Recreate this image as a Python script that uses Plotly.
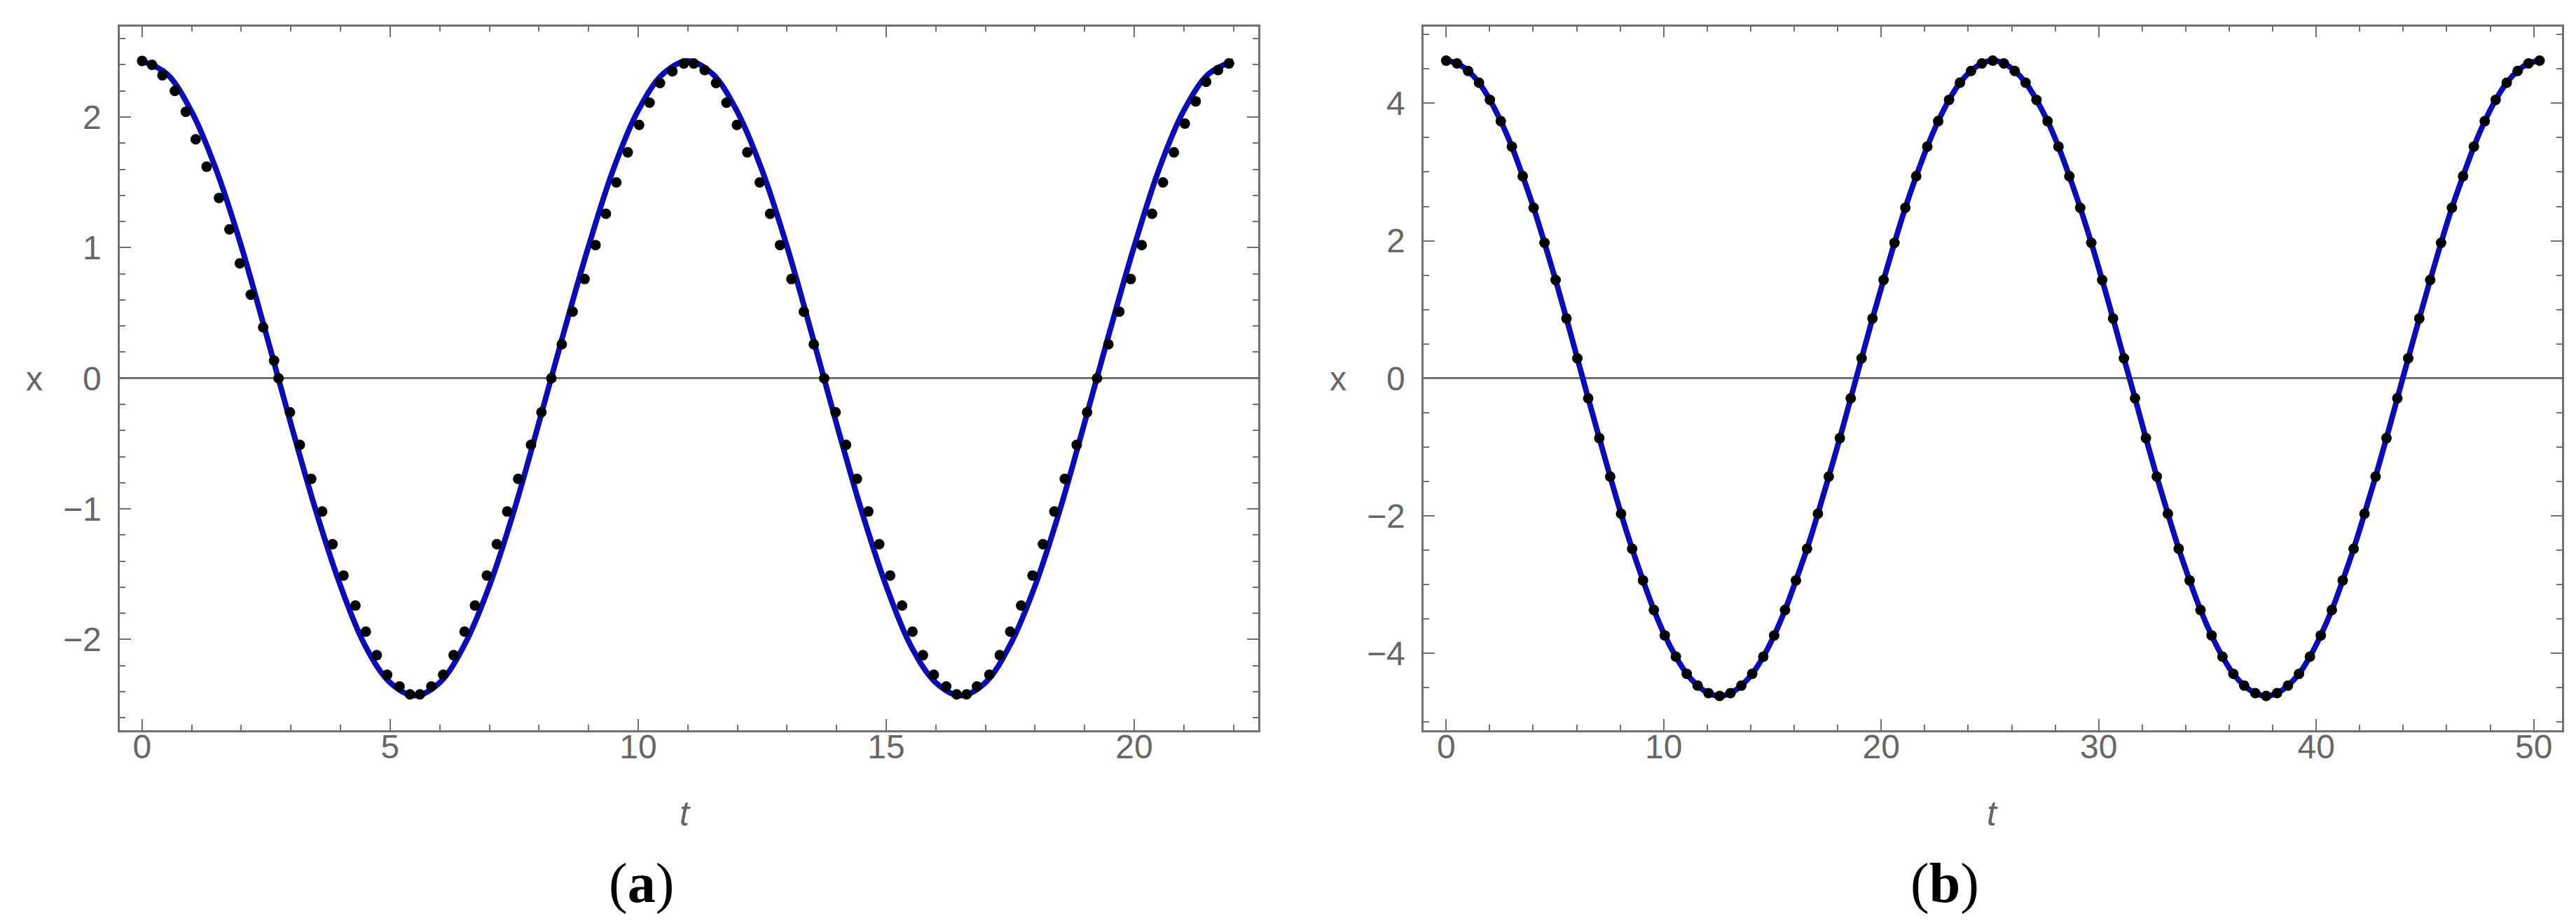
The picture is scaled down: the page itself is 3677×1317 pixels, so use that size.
import plotly.graph_objects as go

W, H = 3677, 1317

# ---- panel (a): analytic curve (blue) and numerical points (black) ----
line_a_t = [0, 0.5, 1.0, 1.5, 2.0, 2.5, 3.0, 3.5, 4.0, 4.5, 5.0, 5.5, 6.0, 6.5, 7.0, 7.5,
            8.0, 8.5, 9.0, 9.5, 10.0, 10.5, 11.0, 11.5, 12.0, 12.5, 13.0, 13.5, 14.0, 14.5,
            15.0, 15.5, 16.0, 16.5, 17.0, 17.5, 18.0, 18.5, 19.0, 19.5, 20.0, 20.5, 21.0,
            21.5, 22.0]
line_a_x = [2.43, 2.33, 2.04, 1.59, 1.01, 0.34, -0.35, -1.01, -1.59, -2.05, -2.33, -2.43,
            -2.33, -2.04, -1.59, -1.01, -0.34, 0.35, 1.01, 1.60, 2.05, 2.33, 2.43, 2.33, 2.04,
            1.59, 1.01, 0.34, -0.35, -1.01, -1.59, -2.05, -2.33, -2.43, -2.33, -2.04, -1.59,
            -1.01, -0.34, 0.35, 1.01, 1.60, 2.05, 2.33, 2.43]

dots_a_t = [0, 0.20, 0.41, 0.66, 0.88, 1.08, 1.30, 1.55, 1.76, 1.97, 2.19, 2.44, 2.66, 2.75,
            2.98, 3.18, 3.41, 3.63, 3.84, 4.06, 4.30, 4.51, 4.73, 4.94, 5.19, 5.40, 5.60, 5.83,
            6.07, 6.28, 6.50, 6.71, 6.95, 7.15, 7.36, 7.58, 7.84, 8.05, 8.25, 8.46, 8.68, 8.92,
            9.14, 9.35, 9.56, 9.79, 10.02, 10.23, 10.44, 10.69, 10.92, 11.12, 11.34, 11.57,
            11.78, 11.99, 12.20, 12.45, 12.66, 12.86, 13.09, 13.34, 13.54, 13.75, 13.98, 14.19,
            14.41, 14.64, 14.86, 15.08, 15.32, 15.53, 15.74, 15.96, 16.21, 16.42, 16.62, 16.83,
            17.08, 17.29, 17.50, 17.72, 17.95, 18.16, 18.39, 18.60, 18.84, 19.05, 19.25, 19.48,
            19.70, 19.93, 20.15, 20.36, 20.58, 20.80, 21.02, 21.24, 21.45, 21.69, 21.91]
dots_a_x = [2.43, 2.40, 2.32, 2.20, 2.04, 1.83, 1.62, 1.38, 1.14, 0.88, 0.64, 0.39, 0.135, 0,
            -0.26, -0.51, -0.77, -1.02, -1.27, -1.51, -1.74, -1.94, -2.12, -2.27, -2.36, -2.42,
            -2.42, -2.36, -2.27, -2.12, -1.94, -1.74, -1.51, -1.27, -1.02, -0.77, -0.51, -0.26,
            0, 0.26, 0.51, 0.76, 1.02, 1.26, 1.50, 1.73, 1.94, 2.11, 2.26, 2.35, 2.41, 2.41,
            2.36, 2.26, 2.11, 1.94, 1.73, 1.50, 1.26, 1.02, 0.76, 0.51, 0.26, 0, -0.26, -0.51,
            -0.77, -1.02, -1.27, -1.51, -1.74, -1.94, -2.12, -2.27, -2.36, -2.42, -2.42, -2.36,
            -2.27, -2.12, -1.94, -1.74, -1.51, -1.27, -1.02, -0.77, -0.51, -0.26, 0, 0.26, 0.51,
            0.76, 1.02, 1.26, 1.50, 1.73, 1.95, 2.12, 2.27, 2.36, 2.41]

# ---- panel (b): points sit on the curve, line drawn through them ----
dots_b_t = [0, 0.50, 1.01, 1.51, 2.01, 2.51, 3.02, 3.52, 4.02, 4.52, 5.03, 5.53, 6.03, 6.53,
            7.04, 7.54, 8.04, 8.55, 9.05, 9.55, 10.05, 10.56, 11.06, 11.56, 12.06, 12.57,
            13.07, 13.57, 14.07, 14.58, 15.08, 15.58, 16.08, 16.59, 17.09, 17.59, 18.10, 18.60,
            19.10, 19.60, 20.11, 20.61, 21.11, 21.61, 22.12, 22.62, 23.12, 23.62, 24.13, 24.63,
            25.13, 25.64, 26.14, 26.64, 27.14, 27.65, 28.15, 28.65, 29.15, 29.66, 30.16, 30.66,
            31.16, 31.67, 32.17, 32.67, 33.18, 33.68, 34.18, 34.68, 35.19, 35.69, 36.19, 36.69,
            37.20, 37.70, 38.20, 38.70, 39.21, 39.71, 40.21, 40.72, 41.22, 41.72, 42.22, 42.73,
            43.23, 43.73, 44.23, 44.74, 45.24, 45.74, 46.24, 46.75, 47.25, 47.75, 48.25, 48.76,
            49.26, 49.76, 50.27]
dots_b_x = [4.62, 4.58, 4.47, 4.30, 4.05, 3.74, 3.37, 2.94, 2.48, 1.97, 1.43, 0.87, 0.29,
            -0.29, -0.87, -1.43, -1.97, -2.48, -2.94, -3.37, -3.74, -4.05, -4.30, -4.47, -4.58,
            -4.62, -4.58, -4.47, -4.30, -4.05, -3.74, -3.37, -2.94, -2.48, -1.97, -1.43, -0.87,
            -0.29, 0.29, 0.87, 1.43, 1.97, 2.48, 2.94, 3.37, 3.74, 4.05, 4.30, 4.47, 4.58,
            4.62, 4.58, 4.47, 4.30, 4.05, 3.74, 3.37, 2.94, 2.48, 1.97, 1.43, 0.87, 0.29,
            -0.29, -0.87, -1.43, -1.97, -2.48, -2.94, -3.37, -3.74, -4.05, -4.30, -4.47, -4.58,
            -4.62, -4.58, -4.47, -4.30, -4.05, -3.74, -3.37, -2.94, -2.48, -1.97, -1.43, -0.87,
            -0.29, 0.29, 0.87, 1.43, 1.97, 2.48, 2.94, 3.37, 3.74, 4.05, 4.30, 4.47, 4.58, 4.62]

BLUE = "#0c0cb4"
FRAME = "#707070"
LABEL = "#666666"
TICK_FONT = dict(family="Liberation Sans", size=48, color=LABEL)


def px_x(x):
    return x / W


def px_y(y):
    return 1 - y / H


fig = go.Figure()
fig.add_trace(go.Scatter(x=line_a_t, y=line_a_x, mode="lines", line=dict(color=BLUE, width=8, shape="spline"),
                         xaxis="x", yaxis="y", hoverinfo="skip"))
fig.add_trace(go.Scatter(x=dots_a_t, y=dots_a_x, mode="markers", marker=dict(color="black", size=15),
                         xaxis="x", yaxis="y"))
fig.add_trace(go.Scatter(x=dots_b_t, y=dots_b_x, mode="lines", line=dict(color=BLUE, width=8, shape="spline"),
                         xaxis="x2", yaxis="y2", hoverinfo="skip"))
fig.add_trace(go.Scatter(x=dots_b_t, y=dots_b_x, mode="markers", marker=dict(color="black", size=15),
                         xaxis="x2", yaxis="y2"))


def axis_style(rng, dtick, minor, domain, anchor, standoff):
    return dict(
        range=rng, domain=domain, anchor=anchor,
        tick0=0, dtick=dtick, ticks="inside", ticklen=16, tickwidth=2, tickcolor=FRAME,
        minor=dict(dtick=minor, tick0=0, ticks="inside", ticklen=8, tickwidth=1.5, tickcolor=FRAME),
        showline=True, linecolor=FRAME, linewidth=2.5, mirror="allticks",
        showgrid=False, zeroline=False, tickfont=TICK_FONT, ticklabelstandoff=standoff,
    )


y_dom = [px_y(1034), px_y(29.5)]
xa = axis_style([-0.45, 22.5], 5, 1, [px_x(163), px_x(1788)], "y", -20)
ya = axis_style([-2.695, 2.695], 1, 0.2, y_dom, "x", 14)
xb = axis_style([-1.04, 51.3], 10, 2, [px_x(2024), px_x(3649)], "y2", -20)
yb = axis_style([-5.12, 5.12], 2, 0.5, y_dom, "x2", 14)
for ax in (ya, yb):
    ax.update(zeroline=True, zerolinecolor=FRAME, zerolinewidth=2.5)

annotations = []
for cx in (41, 1902):
    annotations.append(dict(x=px_x(cx), y=px_y(532), text="x",
                            font=dict(family="Liberation Sans", size=48, color=LABEL)))
for cx in (970, 2836):
    annotations.append(dict(x=px_x(cx), y=px_y(1153), text="<i>t</i>",
                            font=dict(family="Liberation Sans", size=50, color=LABEL)))
for cx, letter in ((907, "a"), (2768, "b")):
    annotations.append(dict(x=px_x(cx), y=px_y(1252), text=f"(<b>{letter}</b>)",
                            font=dict(family="Liberation Serif", size=80, color="black")))
for a in annotations:
    a.update(xref="paper", yref="paper", showarrow=False, xanchor="center", yanchor="middle")

fig.update_layout(
    width=W, height=H,
    margin=dict(l=0, r=0, t=0, b=0),
    paper_bgcolor="white", plot_bgcolor="white",
    showlegend=False,
    xaxis=xa, yaxis=ya, xaxis2=xb, yaxis2=yb,
    annotations=annotations,
)

fig.write_html("out.html")
